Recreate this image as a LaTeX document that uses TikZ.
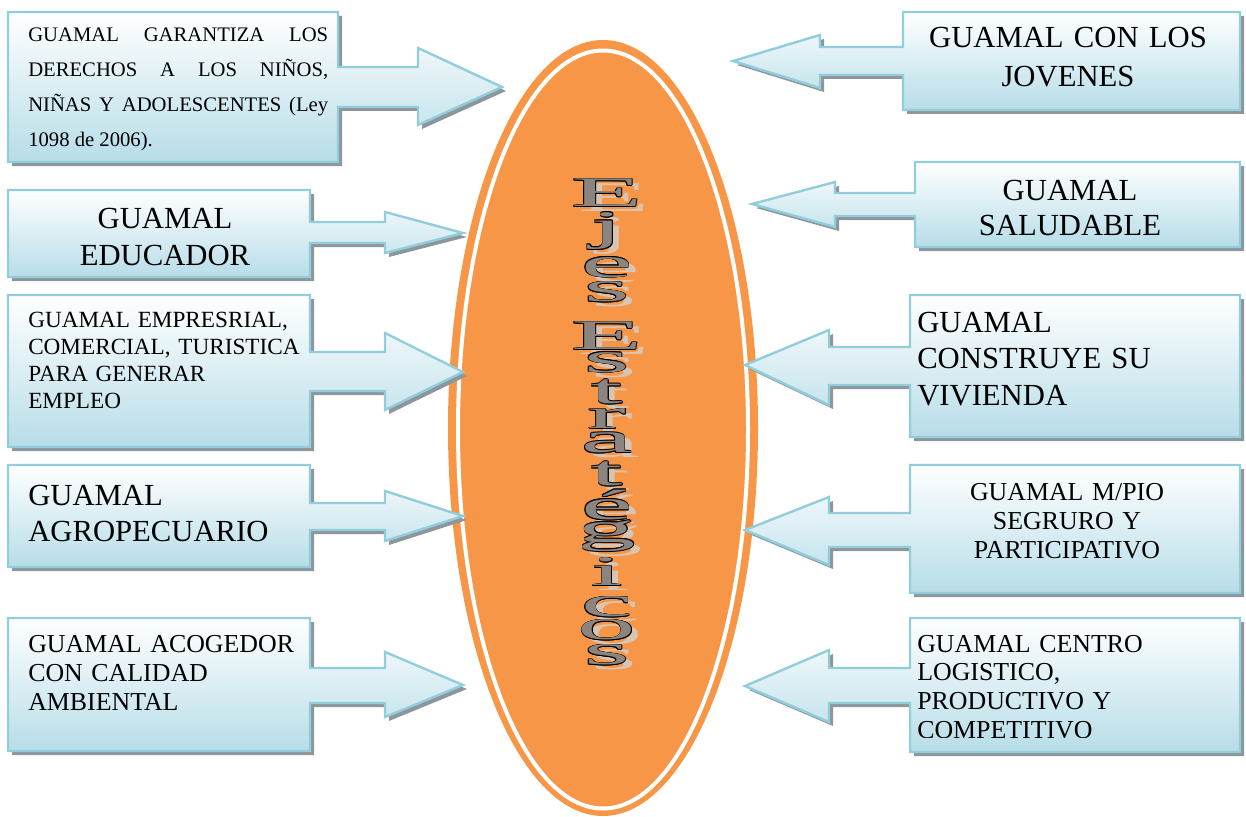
\documentclass[tikz,border=0pt]{standalone}
\usepackage{fontspec}
\setmainfont{Liberation Serif}
\usetikzlibrary{shapes.geometric}
\definecolor{orangeE}{RGB}{247,150,70}
\definecolor{boxline}{RGB}{146,205,220}
\definecolor{boxlow}{RGB}{183,221,232}
\definecolor{shadowc}{RGB}{140,150,155}
\definecolor{letterfill}{RGB}{140,132,126}
\definecolor{lettershadow}{RGB}{212,205,198}
\tikzset{
  callout/.style={draw=boxline, line width=1.8pt, top color=white, bottom color=boxlow, line join=miter},
  calloutshadow/.style={fill=shadowc, shift={(4,4)}},
  lbl/.style={inner sep=0pt, text=black},
  wl/.style={inner sep=0pt, font=\fontsize{31.7}{32}\selectfont},
}
\newcommand\callout[1]{\fill[calloutshadow] #1; \path[callout] #1;}
\newcommand\wlet[3]{%
  \node[wl, text=lettershadow, opacity=0.85] at (614,#2+5) {\scalebox{2.76}[1]{#3}};
  \foreach \ddx/\ddy in {0.55/0,-0.55/0,0/0.55,0/-0.55,0.4/0.4,-0.4/0.4,0.4/-0.4,-0.4/-0.4}
    {\node[wl, text=black, xshift=\ddx pt, yshift=\ddy pt] at (607,#2) {\scalebox{2.76}[1]{#3}};}
  \node[wl, text=letterfill] (#1) at (607,#2) {\scalebox{2.76}[1]{#3}};
}
\begin{document}
\begin{tikzpicture}[x=0.75pt,y=-0.75pt]
\useasboundingbox (0,0) rectangle (1246,817);
% central ellipse
\node[ellipse, fill=orangeE, minimum width=232.5pt, minimum height=582pt, inner sep=0pt] (eje) at (603,428) {};
\node[ellipse, draw=white, line width=3pt, minimum width=217.5pt, minimum height=568.5pt, inner sep=0pt] (ring) at (603,429.5) {};
% left callouts
\callout{(8,12) -- (338,12) -- (338,67) -- (418,67) -- (418,48) -- (502,87) -- (418,125) -- (418,107) -- (338,107) -- (338,162) -- (8,162) -- cycle}
\callout{(8,190) -- (310,190) -- (310,222) -- (385,222) -- (385,212) -- (463,233) -- (385,253) -- (385,243) -- (310,243) -- (310,277) -- (8,277) -- cycle}
\callout{(8,295) -- (310,295) -- (310,352) -- (385,352) -- (385,333) -- (463,372) -- (385,410) -- (385,391) -- (310,391) -- (310,447) -- (8,447) -- cycle}
\callout{(8,465) -- (310,465) -- (310,503) -- (385,503) -- (385,491) -- (463,516) -- (385,541) -- (385,530) -- (310,530) -- (310,567) -- (8,567) -- cycle}
\callout{(8,618) -- (310,618) -- (310,668) -- (385,668) -- (385,652) -- (463,685) -- (385,717) -- (385,703) -- (310,703) -- (310,751) -- (8,751) -- cycle}
% right callouts
\callout{(903,12) -- (1240,12) -- (1240,110) -- (903,110) -- (903,75) -- (820,75) -- (820,88) -- (733,61) -- (820,35) -- (820,47) -- (903,47) -- cycle}
\callout{(915,162) -- (1240,162) -- (1240,247) -- (915,247) -- (915,216) -- (835,216) -- (835,227) -- (752,204) -- (835,182) -- (835,193) -- (915,193) -- cycle}
\callout{(910,295) -- (1240,295) -- (1240,437) -- (910,437) -- (910,385) -- (829,385) -- (829,405) -- (745,365) -- (829,330) -- (829,347) -- (910,347) -- cycle}
\callout{(910,465) -- (1240,465) -- (1240,593) -- (910,593) -- (910,547) -- (829,547) -- (829,565) -- (745,530) -- (829,497) -- (829,513) -- (910,513) -- cycle}
\callout{(910,618) -- (1240,618) -- (1240,752) -- (910,752) -- (910,703) -- (829,703) -- (829,722) -- (745,686) -- (829,650) -- (829,668) -- (910,668) -- cycle}
% vertical word art
\wlet{l1}{193}{E}
\wlet{l2}{231}{j}
\wlet{l3}{267.5}{e}
\wlet{l4}{292}{s}
\wlet{l5}{336}{E}
\wlet{l6}{362.5}{s}
\wlet{l7}{392}{t}
\wlet{l8}{419}{r}
\wlet{l9}{443}{a}
\wlet{l10}{474}{t}
\wlet{l11}{505}{é}
\wlet{l12}{536}{g}
\wlet{l13}{572}{i}
\wlet{l14}{607}{c}
\wlet{l15}{630}{o}
\wlet{l16}{655}{s}
% texts
\node[lbl, anchor=base west, text width=225pt, align=justify, font=\fontsize{15.5}{26.25}\selectfont] (t1) at (28,42)
  {GUAMAL GARANTIZA LOS\linebreak DERECHOS A LOS NIÑOS,\linebreak NIÑAS Y ADOLESCENTES (Ley\linebreak 1098 de 2006).};
\node[lbl, anchor=base, text width=217pt, align=center, font=\fontsize{23}{27.75}\selectfont] (t2) at (165,228) {GUAMAL\\EDUCADOR};
\node[lbl, anchor=base west, text width=215pt, align=left, font=\fontsize{17.4}{20.25}\selectfont] (t3) at (28,327) {GUAMAL EMPRESRIAL,\\COMERCIAL, TURISTICA\\PARA GENERAR\\EMPLEO};
\node[lbl, anchor=base west, text width=215pt, align=left, font=\fontsize{23}{27}\selectfont] (t4) at (28,505) {GUAMAL\\AGROPECUARIO};
\node[lbl, anchor=base west, text width=215pt, align=left, font=\fontsize{19.4}{22}\selectfont] (t5) at (28,652) {GUAMAL ACOGEDOR\\CON CALIDAD\\AMBIENTAL};
\node[lbl, anchor=base, text width=240pt, align=center, font=\fontsize{23}{29}\selectfont] (t6) at (1068,48) {GUAMAL CON LOS\\JOVENES};
\begin{scope}
\clip (905,160) rectangle (1240,237);
\node[lbl, anchor=base, text width=240pt, align=center, font=\fontsize{23}{26.25}\selectfont] (t7) at (1070,200) {GUAMAL\\SALUDABLE};
\end{scope}
\node[lbl, anchor=base west, text width=235pt, align=left, font=\fontsize{23}{27.4}\selectfont] (t8) at (917,332) {GUAMAL\\CONSTRUYE SU\\VIVIENDA};
\node[lbl, anchor=base, text width=240pt, align=center, font=\fontsize{19.4}{21.75}\selectfont] (t9) at (1067,500) {GUAMAL M/PIO\\SEGRURO Y\\PARTICIPATIVO};
\begin{scope}
\clip (905,615) rectangle (1240,737);
\node[lbl, anchor=base west, text width=235pt, align=left, font=\fontsize{19.4}{21.5}\selectfont] (t10) at (917,652) {GUAMAL CENTRO\\LOGISTICO,\\PRODUCTIVO Y\\COMPETITIVO};
\end{scope}
\end{tikzpicture}
\end{document}
